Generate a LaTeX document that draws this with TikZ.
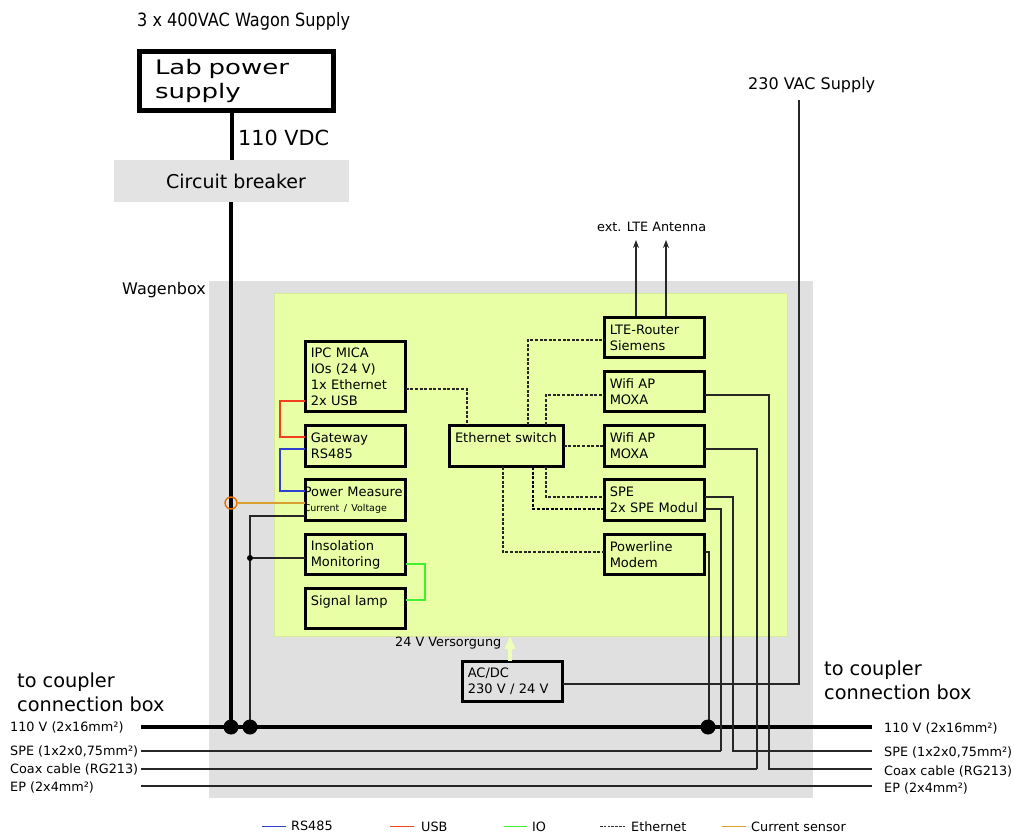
\documentclass[tikz,border=0pt]{standalone}
\usepackage{fontspec}
\usetikzlibrary{arrows.meta,calc}
\setmainfont{DejaVu Sans}
\newfontfamily\widefont[FakeStretch=1.3]{DejaVu Sans}
\newfontfamily\narrowfont[FakeStretch=0.88]{DejaVu Sans}
\definecolor{boxgray}{HTML}{E0E0E0}
\definecolor{breakergray}{HTML}{E3E3E3}
\definecolor{panel}{HTML}{E9FFA6}
\definecolor{rsblue}{HTML}{3040D0}
\definecolor{usbred}{HTML}{F04020}
\definecolor{iogreen}{HTML}{40F030}
\definecolor{sensor}{HTML}{D8A030}
\tikzset{
  dev/.style={draw=black,line width=3pt,outer sep=0pt,inner xsep=5.5pt,inner ysep=0pt,
    align=left,text width=#1,minimum height=40.5pt,fill=panel,
    font=\fontsize{13}{16}\selectfont},
  dev/.default=89.5pt,
  lbl/.style={inner sep=0pt,anchor=west,font=\fontsize{12.8}{15}\selectfont},
  biglbl/.style={inner sep=0pt,anchor=west,align=left,font=\fontsize{19.3}{24}\selectfont},
  wire/.style={line width=1.2pt,black!85},
  eth/.style={line width=1.2pt,black!85,dash pattern=on 3pt off 1.6pt},
  ethb/.style={line width=1.6pt,black,dash pattern=on 3pt off 1.6pt},
  junction/.style={circle,fill=black,inner sep=0pt,minimum size=#1},
}
\begin{document}
\begin{tikzpicture}[x=1pt,y=-1pt]
\useasboundingbox (0,0) rectangle (1014,835);
% backgrounds
\node[fill=boxgray,inner sep=0pt,outer sep=0pt,minimum width=604pt,minimum height=517pt] (wagenbox) at (511,539.5) {};
\node[fill=panel,draw=panel!92!black,line width=.4pt,inner sep=0pt,outer sep=0pt,minimum width=513pt,minimum height=343pt] (panelbox) at (530.5,464.5) {};
% top left
\node[draw=black,line width=4.5pt,outer sep=0pt,inner xsep=0pt,inner ysep=0pt,minimum width=194pt,minimum height=59pt,text width=163pt,align=left,font=\widefont\fontsize{20}{24}\selectfont] (lab) at (236.5,81) {Lab power\\supply};
\node[fill=breakergray,inner sep=0pt,outer sep=0pt,minimum width=235pt,minimum height=42pt,font=\fontsize{19}{20}\selectfont] (breaker) at (231.5,181) {\hspace*{9pt}Circuit breaker};
% buses
\coordinate (busL) at (141,727);
\coordinate (busR) at (872,727);
\coordinate (speL) at (141,751);
\coordinate (speR) at (872,751);
\coordinate (coaxL) at (141,769);
\coordinate (coaxR) at (872,769);
\coordinate (epL) at (141,786);
\coordinate (epR) at (872,786);
\draw[line width=3.5pt] (lab.south -| 232,0) -- (breaker.north -| 232,0);
\draw[line width=3.5pt] (breaker.south -| 231,0) -- (231,727);
\draw[line width=4pt] (busL) -- (busR);
\draw[wire] (speL) -- (721,751);
\draw[wire] (coaxL) -- (757,769);
\draw[wire] (epL) -- (epR);
% devices
\node[dev] (ipc) at (355.5,376.5) [minimum height=70.5pt] {IPC MICA\\IOs (24 V)\\1x Ethernet\\2x USB};
\node[dev] (gw) at (355.5,446) {Gateway\\RS485};
\node[dev] (pm) at (355.5,500) {\mbox{\hspace*{-7pt}Power Measure}\\[-1pt]\mbox{\hspace*{-7pt}\fontsize{9.5}{12}\selectfont Current / Voltage}};
\node[dev] (iso) at (355.5,554.5) {Insolation\\Monitoring};
\node[dev] (lamp) at (355.5,608.5) {Signal lamp\\\mbox{}};
\node[dev=103pt] (sw) at (506.5,446) {Ethernet switch\\\mbox{}};
\node[dev] (lte) at (654.5,337.5) {LTE-Router\\Siemens};
\node[dev] (w1) at (654.5,391.5) {Wifi AP\\MOXA};
\node[dev] (w2) at (654.5,446) {Wifi AP\\MOXA};
\node[dev] (spe) at (654.5,500) {SPE\\2x SPE Modul};
\node[dev] (plm) at (654.5,554.5) {Powerline\\Modem};
\node[dev,fill=boxgray] (acdc) at (512.5,681.5) {AC/DC\\230 V / 24 V};
% power to panel
\coordinate (panelin) at (510,636);
\draw[-{Triangle[length=13pt,width=10pt]},line width=3.4pt,panel!80!white] (acdc.north -| panelin) -- (panelin);
% local connectors
\draw[line width=1.2pt,usbred] (ipc.west |- 0,401) -- (280,401) -- (280,437) -- (gw.west |- 0,437);
\draw[line width=1.2pt,rsblue] (gw.west |- 0,449) -- (280,449) -- (280,491) -- (pm.west |- 0,491);
\node[circle,draw=orange!90!black,line width=1.4pt,inner sep=0pt,minimum size=12pt] (sensorring) at (231,503) {};
\draw[line width=1.2pt,sensor] (pm.west |- 0,503) -- (sensorring.east);
\draw[wire] (pm.west |- 0,516) -- (250,516) -- (250,727);
\node[junction=6pt] (jiso) at (250,558) {};
\draw[wire] (iso.west |- 0,558) -- (jiso);
\draw[line width=1.2pt,iogreen] (iso.east |- 0,564) -- (425,564) -- (425,600) -- (lamp.east |- 0,600);
% ethernet
\draw[eth] (ipc.east |- 0,389) -- (467,389) -- (467,425);
\draw[eth] (528,425) -- (528,340) -- (lte.west |- 0,340);
\draw[eth] (546,425) -- (546,395) -- (w1.west |- 0,395);
\draw[eth] (sw.east) -- (w2.west);
\draw[eth] (546,467) -- (546,497) -- (spe.west |- 0,497);
\draw[ethb] (533,467) -- (533,509) -- (spe.west |- 0,509);
\draw[eth] (503,467) -- (503,552) -- (plm.west |- 0,552);
% antenna
\draw[wire,-{Stealth[length=8pt,width=6pt]}] (636,316) -- (636,240);
\draw[wire,-{Stealth[length=8pt,width=6pt]}] (666,316) -- (666,240);
% right side
\draw[wire] (w1.east |- 0,395) -- (769,395) -- (769,769) -- (coaxR);
\draw[wire] (w2.east |- 0,449) -- (757,449) -- (757,769);
\draw[wire] (spe.east |- 0,497) -- (733,497) -- (733,751) -- (speR);
\draw[wire] (spe.east |- 0,509) -- (721,509) -- (721,751);
\draw[wire] (plm.east |- 0,552) -- (709,552) -- (709,727);
\draw[wire] (acdc.east |- 0,684) -- (799,684) -- (799,100);
\node[junction=15pt] (j1) at (231,727) {};
\node[junction=15pt] (j2) at (250,727) {};
\node[junction=15pt] (j3) at (708,727) {};
% labels
\node[lbl,font=\narrowfont\fontsize{18.3}{20}\selectfont] (tsupply) at (137,21) {3 x 400VAC Wagon Supply};
\node[lbl,font=\fontsize{20.8}{24}\selectfont] (tvdc) at (238,138) {110 VDC};
\node[lbl,font=\fontsize{16}{18}\selectfont] (tvac) at (748,85) {230 VAC Supply};
\node[lbl] (tlte) at (597,227) {ext. LTE Antenna};
\node[lbl,font=\fontsize{16}{18}\selectfont] (twb) at (122,290) {Wagenbox};
\node[lbl] (t24) at (395,643) {24 V Versorgung};
\node[biglbl] (tcl) at (17,692) {to coupler\\connection box};
\node[biglbl] (tcr) at (824,680) {to coupler\\connection box};
\node[lbl] at (10,727) (l1) {110 V (2x16mm²)};
\node[lbl] at (10,751) (l2) {SPE (1x2x0,75mm²)};
\node[lbl] at (10,769) (l3) {Coax cable (RG213)};
\node[lbl] at (10,787) (l4) {EP (2x4mm²)};
\node[lbl] at (884,728) (r1) {110 V (2x16mm²)};
\node[lbl] at (884,752) (r2) {SPE (1x2x0,75mm²)};
\node[lbl] at (884,771) (r3) {Coax cable (RG213)};
\node[lbl] at (884,788) (r4) {EP (2x4mm²)};
% legend
\coordinate (a1) at (262,826); \coordinate (a2) at (286,826);
\coordinate (b1) at (390,826); \coordinate (b2) at (414,826);
\coordinate (c1) at (504,826); \coordinate (c2) at (527,826);
\coordinate (d1) at (600,826); \coordinate (d2) at (625,826);
\coordinate (e1) at (722,826); \coordinate (e2) at (746,826);
\draw[line width=.9pt,rsblue] (a1) -- (a2);
\draw[line width=.9pt,usbred] (b1) -- (b2);
\draw[line width=.9pt,iogreen] (c1) -- (c2);
\draw[line width=.9pt,black!80,dash pattern=on 2.5pt off 1.3pt] (d1) -- (d2);
\draw[line width=.9pt,sensor] (e1) -- (e2);
\node[lbl] at (291,826) (k1) {RS485};
\node[lbl] at (421,827) (k2) {USB};
\node[lbl] at (532,827) (k3) {IO};
\node[lbl] at (631,827) (k4) {Ethernet};
\node[lbl] at (751,827) (k5) {Current sensor};
\end{tikzpicture}
\end{document}
